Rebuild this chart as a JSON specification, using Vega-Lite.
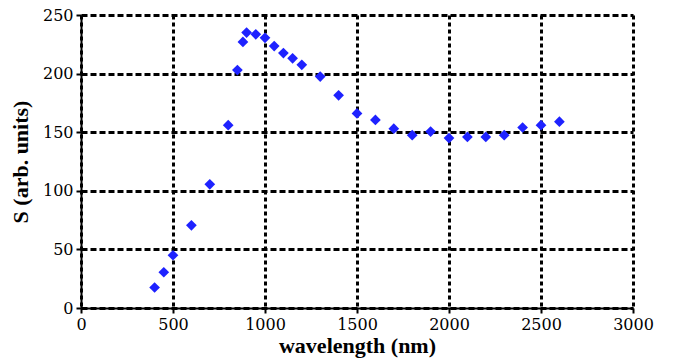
{
  "$schema": "https://vega.github.io/schema/vega-lite/v6.json",
  "width": 552,
  "height": 293,
  "autosize": {"type": "none"},
  "padding": {"left": 81, "top": 15, "right": 48, "bottom": 56},
  "background": "white",
  "config": {
    "view": {"stroke": null}
  },
  "data": {
    "values": [
      {"wavelength": 400, "S": 17.5},
      {"wavelength": 450, "S": 30.5},
      {"wavelength": 500, "S": 45},
      {"wavelength": 600, "S": 70.5},
      {"wavelength": 700, "S": 105.5},
      {"wavelength": 800, "S": 156},
      {"wavelength": 850, "S": 203},
      {"wavelength": 880, "S": 227},
      {"wavelength": 900, "S": 235},
      {"wavelength": 950, "S": 233.5},
      {"wavelength": 1000, "S": 230.5},
      {"wavelength": 1050, "S": 223.5},
      {"wavelength": 1100, "S": 217.5},
      {"wavelength": 1150, "S": 213},
      {"wavelength": 1200, "S": 207.5},
      {"wavelength": 1300, "S": 197.5},
      {"wavelength": 1400, "S": 181.5},
      {"wavelength": 1500, "S": 166},
      {"wavelength": 1600, "S": 160.5},
      {"wavelength": 1700, "S": 153},
      {"wavelength": 1800, "S": 147.5},
      {"wavelength": 1900, "S": 150.5},
      {"wavelength": 2000, "S": 145},
      {"wavelength": 2100, "S": 146},
      {"wavelength": 2200, "S": 146},
      {"wavelength": 2300, "S": 147.5},
      {"wavelength": 2400, "S": 154},
      {"wavelength": 2500, "S": 156},
      {"wavelength": 2600, "S": 159}
    ]
  },
  "mark": {"type": "point", "shape": "diamond", "filled": true, "size": 115, "color": "#1e22ff", "opacity": 1},
  "encoding": {
    "x": {
      "field": "wavelength",
      "type": "quantitative",
      "scale": {"domain": [0, 3000], "nice": false, "zero": true},
      "axis": {
        "values": [0, 500, 1000, 1500, 2000, 2500, 3000],
        "format": "d",
        "title": "wavelength (nm)",
        "titleFont": "serif",
        "titleFontSize": 22,
        "titleFontWeight": "bold",
        "titleColor": "black",
        "titlePadding": 3,
        "labelFont": "DejaVu Serif",
        "labelFontSize": 16,
        "labelColor": "black",
        "labelPadding": 3,
        "labelFlush": false,
        "domainColor": "black",
        "domainWidth": 2,
        "tickColor": "black",
        "tickWidth": 2,
        "tickSize": 5,
        "grid": true,
        "gridColor": "black",
        "gridWidth": 3,
        "gridDash": [4, 3],
        "gridOpacity": 1
      }
    },
    "y": {
      "field": "S",
      "type": "quantitative",
      "scale": {"domain": [0, 250], "nice": false},
      "axis": {
        "values": [0, 50, 100, 150, 200, 250],
        "format": "d",
        "title": "S (arb. units)",
        "titleFont": "serif",
        "titleFontSize": 22,
        "titleFontWeight": "bold",
        "titleColor": "black",
        "titlePadding": 10,
        "labelFont": "DejaVu Serif",
        "labelFontSize": 16,
        "labelColor": "black",
        "labelPadding": 3,
        "labelFlush": false,
        "domainColor": "black",
        "domainWidth": 2,
        "tickColor": "black",
        "tickWidth": 2,
        "tickSize": 5,
        "grid": true,
        "gridColor": "black",
        "gridWidth": 3,
        "gridDash": [6, 3],
        "gridOpacity": 1
      }
    }
  }
}
